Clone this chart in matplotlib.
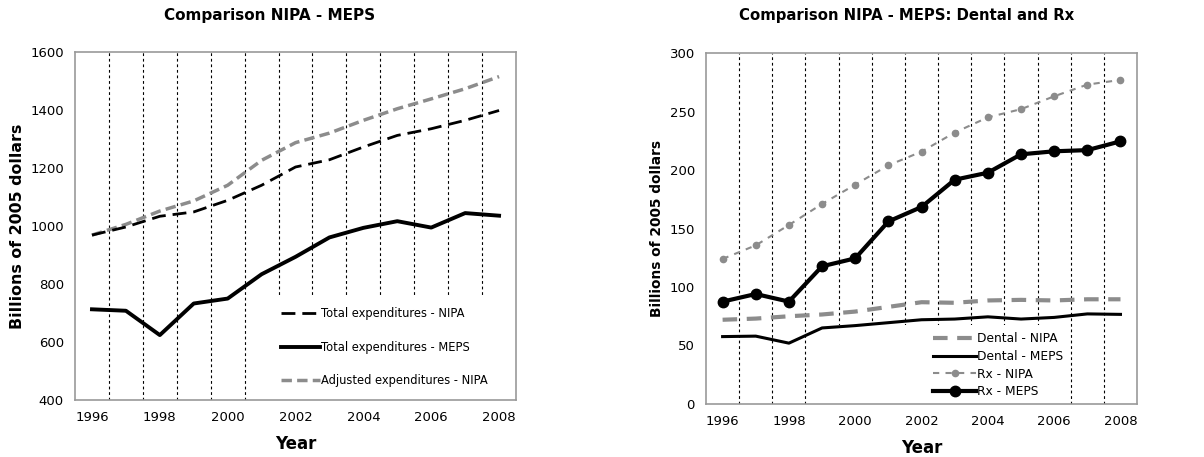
import numpy as np
import matplotlib.pyplot as plt
from matplotlib.patches import Rectangle

years = np.arange(1996, 2009)

# left panel
total_nipa = [969, 997, 1034, 1049, 1089, 1141, 1204, 1229, 1273, 1313, 1336, 1365, 1399]
total_meps = [713, 708, 624, 733, 750, 834, 894, 961, 994, 1017, 995, 1045, 1036]
adjusted_nipa = [969, 1006, 1052, 1087, 1141, 1227, 1288, 1321, 1365, 1405, 1439, 1474, 1516]

# right panel
dental_nipa = [72, 73, 75, 76.5, 79, 83, 87, 86.5, 88.5, 89, 88.5, 89.5, 89.5]
dental_meps = [57.6, 58, 52, 65, 67, 69.5, 72, 72.6, 74.5, 72.6, 74, 77, 76.6]
rx_nipa = [124, 135.6, 153, 171, 187.5, 204, 215.7, 232, 245, 252, 263, 273, 277]
rx_meps = [87.5, 94, 87.5, 117.7, 124.5, 156, 168.4, 191.7, 197.7, 213.4, 216, 217, 224.5]

GRAY = '#8c8c8c'
plt.rcParams['font.family'] = 'DejaVu Sans'

fig = plt.figure(figsize=(12.04, 4.57), dpi=100)
ax1 = fig.add_axes([0.0623, 0.1247, 0.3663, 0.761])
ax2 = fig.add_axes([0.5864, 0.116, 0.358, 0.768])


def style_axes(ax, ylim, yticks, ylab_size):
    ax.set_xlim(1995.5, 2008.5)
    ax.set_ylim(*ylim)
    ax.set_xticks(range(1996, 2009, 2))
    ax.set_yticks(yticks)
    for x in np.arange(1996.5, 2008, 1):
        ax.axvline(x, color='black', lw=0.8, ls=(0, (2.5, 2.5)), zorder=1)
    for s in ax.spines.values():
        s.set_color('#999999')
        s.set_linewidth(1.2)
    ax.tick_params(length=0, labelsize=9.5, pad=8)
    ax.set_xlabel('Year', fontsize=12, fontweight='bold', labelpad=8)
    ax.set_ylabel('Billions of 2005 dollars', fontsize=ylab_size, fontweight='bold', labelpad=4)


style_axes(ax1, (400, 1600), range(400, 1601, 200), 11.4)
ax1.add_patch(Rectangle((0.43, 0), 0.57, 0.30, transform=ax1.transAxes,
                        facecolor='white', edgecolor='none', zorder=1.5))
ax1.plot(years, total_nipa, color='black', lw=2, ls=(0, (5, 2.5)), zorder=3,
         label='Total expenditures - NIPA')
ax1.plot(years, total_meps, color='black', lw=2.8, zorder=3,
         label='Total expenditures - MEPS')
ax1.plot(years, adjusted_nipa, color=GRAY, lw=2.5, ls=(0, (3, 1.5)), zorder=2,
         label='Adjusted expenditures - NIPA')
ax1.legend(loc='center left', bbox_to_anchor=(0.467, 0.152), frameon=False,
           fontsize=8.3, borderpad=0, borderaxespad=0, labelspacing=1.75,
           handlelength=3.4, handletextpad=0.1)
fig.text(0.224, 0.967, 'Comparison NIPA - MEPS', ha='center', va='center',
         fontsize=11, fontweight='bold')

style_axes(ax2, (0, 300), range(0, 301, 50), 9.9)
ax2.add_patch(Rectangle((0.276, 0), 0.564, 0.225, transform=ax2.transAxes,
                        facecolor='white', edgecolor='none', zorder=1.5))
ax2.plot(years, dental_nipa, color=GRAY, lw=3, ls=(0, (3.5, 2.3)), zorder=2,
         label='Dental - NIPA')
ax2.plot(years, dental_meps, color='black', lw=2.2, zorder=3,
         label='Dental - MEPS')
ax2.plot(years, rx_nipa, color=GRAY, lw=1.5, ls=(0, (3, 3)), marker='o', ms=4.5,
         zorder=2, label='Rx - NIPA')
ax2.plot(years, rx_meps, color='black', lw=3, marker='o', ms=7.5, zorder=3,
         label='Rx - MEPS')
ax2.legend(loc='center left', bbox_to_anchor=(0.527, 0.11), frameon=False,
           fontsize=8.8, borderpad=0, borderaxespad=0, labelspacing=0.38,
           handlelength=3.5, handletextpad=0.1)
fig.text(0.753, 0.967, 'Comparison NIPA - MEPS: Dental and Rx', ha='center', va='center',
         fontsize=10.7, fontweight='bold')

fig.savefig('out.png', dpi=100, facecolor='white')
